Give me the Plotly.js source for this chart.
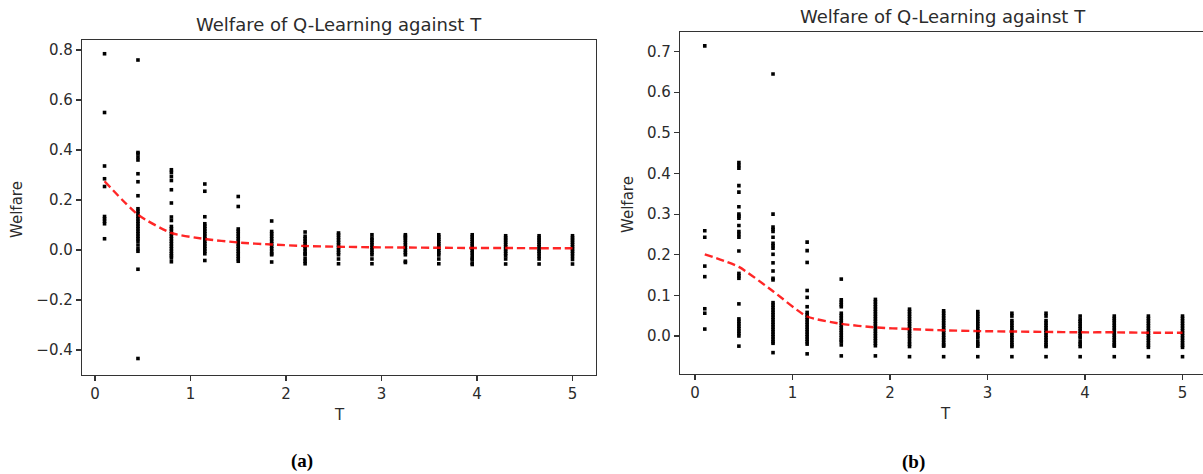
<!DOCTYPE html>
<html>
<head>
<meta charset="utf-8">
<script src="https://cdn.plot.ly/plotly-3.0.1.min.js"></script>
<style>html,body{margin:0;padding:0;background:#fff;}#chart{width:1203px;height:474px;}</style>
</head>
<body>
<div id="chart"></div>
<script>
// T values (15 columns)
const tValues = [0.1, 0.45, 0.8, 1.15, 1.5, 1.85, 2.2, 2.55, 2.9, 3.25, 3.6, 3.95, 4.3, 4.65, 5.0];

// (a) welfare samples per T column
const welfareA = [
  [0.785, 0.55, 0.336, 0.285, 0.254, 0.134, 0.125, 0.115, 0.105, 0.045],
  [0.76, 0.39, 0.385, 0.372, 0.36, 0.305, 0.273, 0.217, 0.165, 0.155, 0.145, 0.135, 0.125, 0.115, 0.105, 0.095, 0.085, 0.075, 0.065, 0.055, 0.045, 0.035, 0.02, 0.005, -0.005, -0.077, -0.434],
  [0.321, 0.31, 0.294, 0.278, 0.241, 0.188, 0.132, 0.118, 0.094, 0.085, 0.075, 0.065, 0.055, 0.045, 0.035, 0.025, 0.015, 0.005, -0.005, -0.015, -0.023, -0.032, -0.047],
  [0.264, 0.235, 0.133, 0.105, 0.095, 0.085, 0.075, 0.065, 0.055, 0.045, 0.035, 0.025, 0.015, 0.005, -0.005, -0.015, -0.042],
  [0.214, 0.174, 0.084, 0.075, 0.065, 0.055, 0.045, 0.035, 0.025, 0.015, 0.005, -0.005, -0.015, -0.025, -0.035, -0.045],
  [0.116, 0.074, 0.065, 0.055, 0.045, 0.035, 0.025, 0.015, 0.005, -0.005, -0.015, -0.019, -0.048],
  [0.072, 0.055, 0.045, 0.035, 0.025, 0.015, 0.005, -0.005, -0.015, -0.019, -0.034, -0.045, -0.055],
  [0.068, 0.06, 0.05, 0.04, 0.03, 0.02, 0.01, 0.0, -0.01, -0.019, -0.036, -0.055],
  [0.061, 0.048, 0.04, 0.03, 0.02, 0.01, 0.0, -0.01, -0.019, -0.036, -0.055],
  [0.061, 0.055, 0.048, 0.04, 0.03, 0.02, 0.01, 0.0, -0.01, -0.019, -0.045, -0.05],
  [0.061, 0.052, 0.043, 0.034, 0.025, 0.016, 0.007, -0.002, -0.011, -0.02, -0.036, -0.055],
  [0.061, 0.052, 0.043, 0.034, 0.025, 0.016, 0.007, -0.002, -0.011, -0.022, -0.034, -0.038, -0.052, -0.058],
  [0.057, 0.048, 0.04, 0.031, 0.022, 0.013, 0.004, -0.005, -0.014, -0.023, -0.036, -0.056],
  [0.057, 0.048, 0.04, 0.031, 0.022, 0.013, 0.004, -0.005, -0.014, -0.025, -0.036, -0.056],
  [0.057, 0.048, 0.04, 0.031, 0.022, 0.013, 0.004, -0.005, -0.014, -0.025, -0.038, -0.056]
];
// (a) mean welfare curve
const meanA = [0.275, 0.141, 0.068, 0.044, 0.03, 0.022, 0.016, 0.013, 0.011, 0.01, 0.009, 0.008, 0.008, 0.007, 0.007];

// (b) welfare samples per T column
const welfareB = [
  [0.714, 0.259, 0.243, 0.172, 0.146, 0.067, 0.056, 0.017],
  [0.427, 0.42, 0.413, 0.37, 0.354, 0.318, 0.30, 0.295, 0.29, 0.272, 0.257, 0.25, 0.243, 0.209, 0.154, 0.148, 0.142, 0.079, 0.042, 0.036, 0.03, 0.024, 0.018, 0.012, 0.006, 0.0, -0.025],
  [0.645, 0.30, 0.268, 0.262, 0.257, 0.243, 0.228, 0.222, 0.216, 0.201, 0.18, 0.16, 0.142, 0.138, 0.082, 0.076, 0.07, 0.064, 0.058, 0.052, 0.046, 0.04, 0.034, 0.028, 0.022, 0.016, 0.01, 0.004, -0.002, -0.008, -0.014, -0.018, -0.041],
  [0.231, 0.21, 0.181, 0.112, 0.095, 0.072, 0.058, 0.052, 0.046, 0.04, 0.034, 0.028, 0.022, 0.016, 0.01, 0.004, -0.002, -0.008, -0.014, -0.02, -0.044],
  [0.14, 0.089, 0.083, 0.077, 0.072, 0.056, 0.05, 0.044, 0.038, 0.032, 0.026, 0.02, 0.014, 0.008, 0.002, -0.004, -0.01, -0.014, -0.022, -0.049],
  [0.09, 0.084, 0.078, 0.072, 0.066, 0.06, 0.054, 0.048, 0.042, 0.036, 0.03, 0.024, 0.018, 0.012, 0.006, 0.0, -0.006, -0.012, -0.018, -0.024, -0.049],
  [0.066, 0.06, 0.054, 0.048, 0.042, 0.036, 0.03, 0.024, 0.018, 0.012, 0.006, 0.0, -0.006, -0.014, -0.02, -0.026, -0.051],
  [0.062, 0.056, 0.05, 0.044, 0.038, 0.032, 0.026, 0.02, 0.014, 0.008, 0.002, -0.004, -0.01, -0.016, -0.022, -0.025, -0.051],
  [0.06, 0.054, 0.048, 0.042, 0.036, 0.03, 0.024, 0.018, 0.012, 0.006, 0.0, -0.005, -0.014, -0.02, -0.025, -0.051],
  [0.056, 0.049, 0.038, 0.032, 0.026, 0.02, 0.014, 0.008, 0.002, -0.004, -0.01, -0.016, -0.022, -0.026, -0.051],
  [0.056, 0.049, 0.038, 0.032, 0.026, 0.02, 0.014, 0.008, 0.002, -0.004, -0.01, -0.016, -0.022, -0.026, -0.051],
  [0.049, 0.041, 0.036, 0.03, 0.024, 0.018, 0.012, 0.006, 0.0, -0.005, -0.014, -0.02, -0.026, -0.051],
  [0.049, 0.043, 0.038, 0.032, 0.026, 0.02, 0.014, 0.008, 0.002, -0.004, -0.01, -0.016, -0.022, -0.025, -0.051],
  [0.049, 0.043, 0.037, 0.031, 0.025, 0.019, 0.013, 0.007, 0.001, -0.005, -0.011, -0.017, -0.023, -0.028, -0.051],
  [0.049, 0.043, 0.037, 0.031, 0.025, 0.019, 0.013, 0.007, 0.001, -0.005, -0.011, -0.017, -0.023, -0.028, -0.051]
];
// (b) mean welfare curve
const meanB = [0.201, 0.17, 0.11, 0.048, 0.03, 0.021, 0.017, 0.014, 0.012, 0.011, 0.01, 0.009, 0.009, 0.008, 0.008];

// tick labels
const xTickVals = [0, 1, 2, 3, 4, 5];
const xTickText = ["0", "1", "2", "3", "4", "5"];
const yTickValsA = [-0.4, -0.2, 0.0, 0.2, 0.4, 0.6, 0.8];
const yTickTextA = ["\u22120.4", "\u22120.2", "0.0", "0.2", "0.4", "0.6", "0.8"];
const yTickValsB = [0.0, 0.1, 0.2, 0.3, 0.4, 0.5, 0.6, 0.7];
const yTickTextB = ["0.0", "0.1", "0.2", "0.3", "0.4", "0.5", "0.6", "0.7"];

const titleText = "Welfare of Q-Learning against T";

function flatten(cols) {
  const x = [], y = [];
  cols.forEach((col, i) => col.forEach(v => { x.push(tValues[i]); y.push(v); }));
  return {x, y};
}
const fa = flatten(welfareA), fb = flatten(welfareB);

const W = 1203, H = 474;
const px = v => v / W, py = v => 1 - v / H;
const FONT = "DejaVu Sans, sans-serif";
const TXT = "#2b2b2b";

const markerStyle = {symbol: "square", size: 3.6, color: "#000", line: {width: 0}};
const lineStyle = {color: "rgba(255,0,0,0.85)", width: 2.4, dash: "8px,4px", shape: "spline", smoothing: 0.6};

const traces = [
  {x: fa.x, y: fa.y, type: "scatter", mode: "markers", marker: markerStyle, xaxis: "x", yaxis: "y", hoverinfo: "skip"},
  {x: tValues, y: meanA, type: "scatter", mode: "lines", line: lineStyle, xaxis: "x", yaxis: "y"},
  {x: fb.x, y: fb.y, type: "scatter", mode: "markers", marker: markerStyle, xaxis: "x2", yaxis: "y2", hoverinfo: "skip"},
  {x: tValues, y: meanB, type: "scatter", mode: "lines", line: lineStyle, xaxis: "x2", yaxis: "y2"}
];

const axBase = {
  showgrid: false, zeroline: false, showline: true, linecolor: "#333", linewidth: 1.2,
  ticks: "outside", ticklen: 5, tickwidth: 1.2, tickcolor: "#333",
  tickfont: {family: FONT, size: 15, color: TXT}, tickmode: "array", fixedrange: true
};

const layout = {
  width: W, height: H,
  margin: {l: 0, r: 0, t: 0, b: 0},
  paper_bgcolor: "#fff", plot_bgcolor: "#fff",
  showlegend: false,
  xaxis: Object.assign({}, axBase, {domain: [px(82), px(596)], range: [-0.136, 5.246], mirror: true,
    tickvals: xTickVals, ticktext: xTickText, anchor: "y"}),
  yaxis: Object.assign({}, axBase, {domain: [py(375), py(40)], range: [-0.5, 0.84], mirror: true,
    tickvals: yTickValsA, ticktext: yTickTextA, anchor: "x"}),
  xaxis2: Object.assign({}, axBase, {domain: [px(680), 1], range: [-0.154, 5.21], mirror: true,
    tickvals: xTickVals, ticktext: xTickText, anchor: "y2"}),
  yaxis2: Object.assign({}, axBase, {domain: [py(374), py(31.7)], range: [-0.0936, 0.749], mirror: false,
    tickvals: yTickValsB, ticktext: yTickTextB, anchor: "x2"}),
  annotations: [
    {text: titleText, x: px(339), y: py(24), xref: "paper", yref: "paper", showarrow: false, xanchor: "center", yanchor: "middle", font: {family: FONT, size: 18, color: TXT}},
    {text: titleText, x: px(943), y: py(16), xref: "paper", yref: "paper", showarrow: false, xanchor: "center", yanchor: "middle", font: {family: FONT, size: 18, color: TXT}},
    {text: "T", x: px(339), y: py(415), xref: "paper", yref: "paper", showarrow: false, xanchor: "center", yanchor: "middle", font: {family: FONT, size: 15, color: TXT}},
    {text: "T", x: px(945), y: py(414), xref: "paper", yref: "paper", showarrow: false, xanchor: "center", yanchor: "middle", font: {family: FONT, size: 15, color: TXT}},
    {text: "Welfare", x: px(17), y: py(210), xref: "paper", yref: "paper", showarrow: false, textangle: -90, xanchor: "center", yanchor: "middle", font: {family: FONT, size: 15, color: TXT}},
    {text: "Welfare", x: px(628), y: py(205), xref: "paper", yref: "paper", showarrow: false, textangle: -90, xanchor: "center", yanchor: "middle", font: {family: FONT, size: 15, color: TXT}},
    {text: "<b>(a)</b>", x: px(302), y: py(461), xref: "paper", yref: "paper", showarrow: false, xanchor: "center", yanchor: "middle", font: {family: "Liberation Serif, serif", size: 19, color: "#000"}},
    {text: "<b>(b)</b>", x: px(913), y: py(462), xref: "paper", yref: "paper", showarrow: false, xanchor: "center", yanchor: "middle", font: {family: "Liberation Serif, serif", size: 19, color: "#000"}}
  ]
};

Plotly.newPlot("chart", traces, layout, {staticPlot: true, displayModeBar: false});
</script>
</body>
</html>
